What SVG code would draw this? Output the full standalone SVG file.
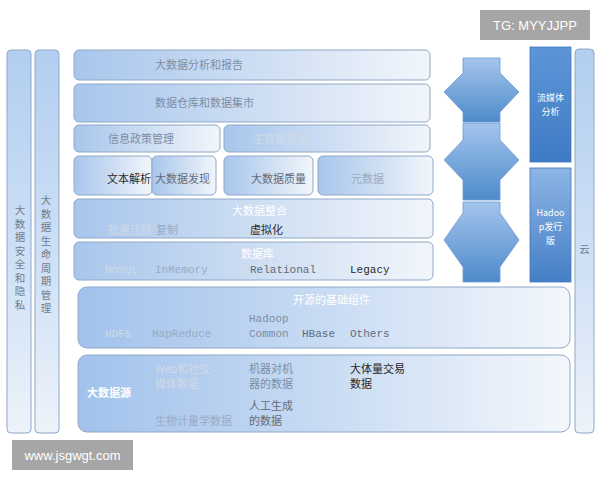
<svg xmlns="http://www.w3.org/2000/svg" width="600" height="480" viewBox="0 0 600 480">
<defs>
<linearGradient id="gBox" x1="0" y1="0" x2="1" y2="0">
<stop offset="0" stop-color="#a8c6ec"/>
<stop offset="0.6" stop-color="#d4e2f4"/>
<stop offset="1" stop-color="#f2f6fb"/>
</linearGradient>
<linearGradient id="gBig" x1="0" y1="0" x2="1" y2="0">
<stop offset="0" stop-color="#a2c2ec"/>
<stop offset="0.5" stop-color="#c8dbf3"/>
<stop offset="1" stop-color="#f4f7fc"/>
</linearGradient>
<linearGradient id="gBar" x1="0" y1="0" x2="0" y2="1">
<stop offset="0" stop-color="#b2cef0"/>
<stop offset="0.6" stop-color="#d2e2f6"/>
<stop offset="1" stop-color="#eef3fa"/>
</linearGradient>
<linearGradient id="gArrow" x1="0" y1="0" x2="0" y2="1">
<stop offset="0" stop-color="#a4c5ec"/>
<stop offset="1" stop-color="#4d8acb"/>
</linearGradient>
<linearGradient id="gDark1" x1="0" y1="0" x2="0" y2="1">
<stop offset="0" stop-color="#5d95d7"/>
<stop offset="1" stop-color="#3f7bc4"/>
</linearGradient>
<linearGradient id="gDark2" x1="0" y1="0" x2="0" y2="1">
<stop offset="0" stop-color="#8db5e5"/>
<stop offset="1" stop-color="#457fc6"/>
</linearGradient>
<style>
.box{fill:url(#gBox);stroke:#8ea8c8;stroke-width:1}
.big{fill:url(#gBig);stroke:#8ea8c8;stroke-width:1}
.bar{fill:url(#gBar);stroke:#8ea8c8;stroke-width:1}
.t{font-family:"Noto Sans CJK SC","Liberation Serif",serif;font-size:11px}
.m{font-family:"Liberation Mono","Noto Sans CJK SC",monospace;font-size:11px}
.s{font-family:"Noto Sans CJK SC","Liberation Sans",sans-serif;font-size:9px;fill:#ffffff;text-anchor:middle}
.w{fill:#ffffff}
.wb{fill:#ffffff;font-weight:bold}
.g1{fill:#d0dae6}
.g2{fill:#98abc2}
.g3{fill:#7d8ea4}
.g4{fill:#5f6c7c}
.d{fill:#2a2a2a}
.v{font-family:"Noto Sans CJK SC","Liberation Serif",serif;font-size:10.5px;fill:#6f7d8e;text-anchor:middle}
.arrow{fill:url(#gArrow);stroke:#6c9cd4;stroke-width:0.8}
</style>
</defs>
<rect width="600" height="480" fill="#ffffff"/>

<g id="left-bar-security">
<rect class="bar" x="7" y="50" width="24" height="383" rx="4"/>
<text class="v"><tspan x="20" y="214">大</tspan><tspan x="20" y="227.5">数</tspan><tspan x="20" y="241">据</tspan><tspan x="20" y="254.5">安</tspan><tspan x="20" y="268">全</tspan><tspan x="20" y="281.5">和</tspan><tspan x="20" y="295">隐</tspan><tspan x="20" y="308.5">私</tspan></text>
</g>
<g id="left-bar-lifecycle">
<rect class="bar" x="35" y="50" width="24" height="383" rx="4"/>
<text class="v"><tspan x="46" y="204">大</tspan><tspan x="46" y="217.5">数</tspan><tspan x="46" y="231">据</tspan><tspan x="46" y="244.5">生</tspan><tspan x="46" y="258">命</tspan><tspan x="46" y="271.5">周</tspan><tspan x="46" y="285">期</tspan><tspan x="46" y="298.5">管</tspan><tspan x="46" y="312">理</tspan></text>
</g>

<g id="box-analysis">
<rect class="box" x="74" y="50" width="356" height="30" rx="5"/>
<text class="t g3" x="155" y="69">大数据分析和报告</text>
</g>
<g id="box-warehouse">
<rect class="box" x="74" y="84" width="356" height="38" rx="5"/>
<text class="t g3" x="155" y="107">数据仓库和数据集市</text>
</g>
<g id="box-policy">
<rect class="box" x="74" y="125" width="146" height="27" rx="5"/>
<text class="t g3" x="108" y="143">信息政策管理</text>
</g>
<g id="box-master">
<rect class="box" x="224" y="125" width="206" height="27" rx="5"/>
<text class="t g1" x="253" y="143">主数据管理</text>
</g>
<g id="box-text">
<rect class="box" x="74" y="156" width="78" height="39" rx="5"/>
<text class="t d" x="107" y="183">文本解析</text>
</g>
<g id="box-discovery">
<rect class="box" x="152" y="156" width="64" height="39" rx="5"/>
<text class="t g4" x="155" y="183">大数据发现</text>
</g>
<g id="box-quality">
<rect class="box" x="224" y="156" width="89" height="39" rx="5"/>
<text class="t g4" x="251" y="183">大数据质量</text>
</g>
<g id="box-metadata">
<rect class="box" x="318" y="156" width="115" height="39" rx="5"/>
<text class="t g2" x="351" y="183">元数据</text>
</g>
<g id="box-integration">
<rect class="box" x="74" y="199" width="359" height="39" rx="5"/>
<text class="t w" x="232" y="215">大数据整合</text>
<text class="t g1" x="108" y="234">批量迁移</text>
<text class="t g2" x="156" y="234">复制</text>
<text class="t d" x="250" y="234">虚拟化</text>
</g>
<g id="box-database">
<rect class="box" x="74" y="242" width="359" height="38" rx="5"/>
<text class="t w" x="241" y="258">数据库</text>
<text class="m g1" x="105" y="273">NoSQL</text>
<text class="m g2" x="155" y="273">InMemory</text>
<text class="m g4" x="250" y="273">Relational</text>
<text class="m d" x="350" y="273">Legacy</text>
</g>
<g id="box-opensource">
<rect class="big" x="78" y="287" width="492" height="61" rx="9"/>
<text class="t w" x="293" y="304">开源的基础组件</text>
<text class="m g1" x="105" y="337">HDFS</text>
<text class="m g2" x="152" y="337">MapReduce</text>
<text class="m g3" x="249" y="322">Hadoop</text>
<text class="m g3" x="249" y="337">Common</text>
<text class="m g4" x="302" y="337">HBase</text>
<text class="m g4" x="350" y="337">Others</text>
</g>
<g id="box-sources">
<rect class="big" x="78" y="355" width="492" height="77" rx="9"/>
<text class="t wb" x="87" y="397">大数据源</text>
<text class="t g1" x="155" y="373">Web和社交</text>
<text class="t g1" x="155" y="388">媒体数据</text>
<text class="t g3" x="249" y="373">机器对机</text>
<text class="t g3" x="249" y="388">器的数据</text>
<text class="t d" x="350" y="373">大体量交易</text>
<text class="t d" x="350" y="388">数据</text>
<text class="t g4" x="249" y="410">人工生成</text>
<text class="t g4" x="249" y="425">的数据</text>
<text class="t g2" x="155" y="425">生物计量学数据</text>
</g>

<g id="connectors">
<polygon class="arrow" points="463,58 500,58 500,73 519,92 500,112 500,122 463,122 463,112 444,92 463,73"/>
<polygon class="arrow" points="463,123 500,123 500,140 519,160 500,180 500,200 463,200 463,180 444,160 463,140"/>
<polygon class="arrow" points="463,202 500,202 500,213 519,240 500,267 500,282 463,282 463,267 444,240 463,213"/>
</g>

<g id="box-streaming">
<rect x="530" y="47" width="41" height="115" fill="url(#gDark1)" stroke="#3f78bd" stroke-width="0.8"/>
<text class="s"><tspan x="550.5" y="101">流媒体</tspan><tspan x="550.5" y="115">分析</tspan></text>
</g>
<g id="box-hadoop">
<rect x="530" y="168" width="41" height="114" fill="url(#gDark2)" stroke="#3f78bd" stroke-width="0.8"/>
<text class="s"><tspan x="550.5" y="216">Hadoo</tspan><tspan x="550.5" y="230">p发行</tspan><tspan x="550.5" y="244">版</tspan></text>
</g>
<g id="right-bar-cloud">
<rect class="bar" x="575" y="49" width="19" height="384" rx="4"/>
<text class="v" x="584.5" y="253">云</text>
</g>

<g id="watermark-tg">
<rect x="480" y="10" width="110" height="30" fill="#a6a6a6"/>
<text x="535" y="30" font-family="Liberation Sans, sans-serif" font-size="13" fill="#ffffff" text-anchor="middle">TG: MYYJJPP</text>
</g>
<g id="watermark-www">
<rect x="12" y="440" width="121" height="30" fill="#a6a6a6"/>
<text x="72.5" y="460" font-family="Liberation Sans, sans-serif" font-size="13" fill="#ffffff" text-anchor="middle">www.jsgwgt.com</text>
</g>
</svg>
